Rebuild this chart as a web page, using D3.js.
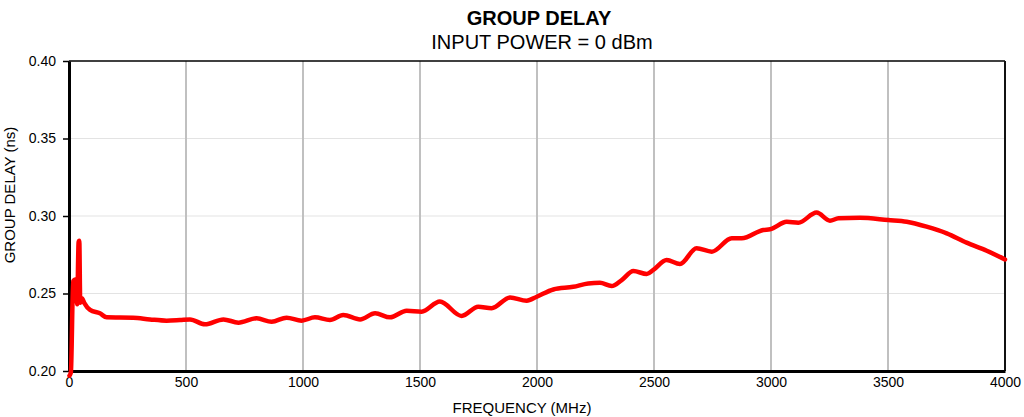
<!DOCTYPE html>
<html>
<head>
<meta charset="utf-8">
<script src="https://cdn.jsdelivr.net/npm/d3@7/dist/d3.min.js"></script>
<style>
  html, body { margin: 0; padding: 0; background: #fff; }
  svg { display: block; font-family: "Liberation Sans", Arial, sans-serif; }
</style>
</head>
<body>
<svg id="chart" width="1024" height="417"></svg>
<script>
const titleText = "GROUP DELAY";
const subtitleText = "INPUT POWER = 0 dBm";
const xLabel = "FREQUENCY (MHz)";
const yLabel = "GROUP DELAY (ns)";
const xTicks = [0, 500, 1000, 1500, 2000, 2500, 3000, 3500, 4000];
const yTicks = [0.20, 0.25, 0.30, 0.35, 0.40];

const freqMHz = [2, 8, 18, 26, 35, 41, 44, 48, 55, 65, 90, 132, 161, 274, 346, 417, 474, 517, 581, 660, 724, 802, 866, 930, 994, 1051, 1115, 1172, 1244, 1308, 1372, 1443, 1507, 1585, 1678, 1749, 1806, 1885, 1956, 1999, 2070, 2155, 2219, 2269, 2319, 2362, 2412, 2469, 2497, 2554, 2611, 2682, 2747, 2832, 2875, 2967, 2996, 3067, 3117, 3195, 3252, 3288, 3380, 3501, 3580, 3665, 3751, 3836, 3922, 4000];
const delayNs = [0.197, 0.199, 0.258, 0.259, 0.243, 0.283, 0.284, 0.244, 0.247, 0.244, 0.2394, 0.2372, 0.2346, 0.2344, 0.2333, 0.2325, 0.2329, 0.2333, 0.2301, 0.2333, 0.2312, 0.2340, 0.2318, 0.2344, 0.2325, 0.2346, 0.2329, 0.2361, 0.2333, 0.2372, 0.2346, 0.2389, 0.2383, 0.2448, 0.2355, 0.2415, 0.2405, 0.2475, 0.2453, 0.2479, 0.2526, 0.2543, 0.2565, 0.2569, 0.2548, 0.2587, 0.2645, 0.2626, 0.2652, 0.2716, 0.2690, 0.2792, 0.2770, 0.2856, 0.2856, 0.2910, 0.2914, 0.2963, 0.2957, 0.3022, 0.2970, 0.2985, 0.2989, 0.2974, 0.2963, 0.2931, 0.2888, 0.2828, 0.2776, 0.2720];

const svg = d3.select("#chart");
const mLeft = 69, mRight = 1005, mTop = 61, mBottom = 371;

const x = d3.scaleLinear().domain([0, 4000]).range([mLeft, mRight]);
const y = d3.scaleLinear().domain([0.20, 0.40]).range([mBottom, mTop]);

// horizontal gridlines
svg.append("g").selectAll("line").data(yTicks.slice(1, -1)).join("line")
  .attr("x1", mLeft).attr("x2", mRight)
  .attr("y1", d => y(d)).attr("y2", d => y(d))
  .attr("stroke", "#e3e3e3").attr("stroke-width", 1);

// vertical gridlines
svg.append("g").selectAll("line").data(xTicks.slice(1, -1)).join("line")
  .attr("x1", d => x(d)).attr("x2", d => x(d))
  .attr("y1", mTop).attr("y2", mBottom)
  .attr("stroke", "#c0c0c0").attr("stroke-width", 2);

// frame top & right
svg.append("line").attr("x1", mLeft).attr("x2", mRight).attr("y1", mTop).attr("y2", mTop)
  .attr("stroke", "#000").attr("stroke-width", 1.5);
svg.append("line").attr("x1", mRight).attr("x2", mRight).attr("y1", mTop).attr("y2", mBottom)
  .attr("stroke", "#111").attr("stroke-width", 2);

// y axis
const yAxis = svg.append("g").attr("transform", `translate(${mLeft},0)`)
  .call(d3.axisLeft(y).tickValues(yTicks).tickFormat(d3.format(".2f")).tickSize(6).tickSizeOuter(0));
yAxis.select(".domain").attr("stroke", "#000").attr("stroke-width", 3);
yAxis.selectAll(".tick line").attr("stroke", "#000").attr("stroke-width", 1.5);
yAxis.selectAll(".tick text").attr("font-size", 14).attr("fill", "#000").attr("x", -13)
  .attr("font-family", "Liberation Sans, Arial, sans-serif");

// x axis
const xAxis = svg.append("g").attr("transform", `translate(0,${mBottom})`)
  .call(d3.axisBottom(x).tickValues(xTicks).tickFormat(d3.format("d")).tickSize(0).tickSizeOuter(0));
xAxis.select(".domain").attr("stroke", "#000").attr("stroke-width", 3);
xAxis.selectAll(".tick text").attr("font-size", 14).attr("fill", "#000").attr("y", 6)
  .attr("font-family", "Liberation Sans, Arial, sans-serif");

// line
const line = d3.line()
  .x((d, i) => x(freqMHz[i]))
  .y(d => y(d))
  .curve(d3.curveMonotoneX);
svg.append("path").datum(delayNs)
  .attr("d", line)
  .attr("fill", "none")
  .attr("stroke", "#ff0000")
  .attr("stroke-width", 4.5)
  .attr("stroke-linejoin", "round")
  .attr("stroke-linecap", "round");

// titles
svg.append("text").attr("x", 539).attr("y", 25).attr("text-anchor", "middle")
  .attr("font-size", 20).attr("font-weight", "bold").text(titleText);
svg.append("text").attr("x", 542).attr("y", 49).attr("text-anchor", "middle")
  .attr("font-size", 20).text(subtitleText);
svg.append("text").attr("x", 522).attr("y", 413).attr("text-anchor", "middle")
  .attr("font-size", 15).text(xLabel);
svg.append("text").attr("transform", `translate(15,195) rotate(-90)`)
  .attr("text-anchor", "middle").attr("font-size", 15).text(yLabel);
</script>
</body>
</html>
